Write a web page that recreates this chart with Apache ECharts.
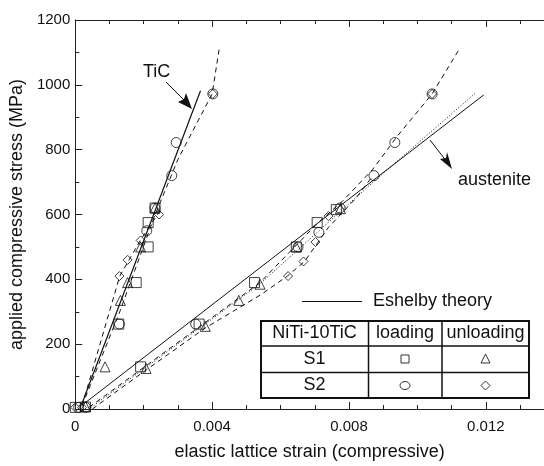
<!DOCTYPE html>
<html><head><meta charset="utf-8">
<script src="https://cdn.jsdelivr.net/npm/echarts@6/dist/echarts.min.js"></script>
<style>html,body{margin:0;padding:0;background:#fff}#c{width:544px;height:466px}</style>
</head><body><div id="c"></div>
<script>
// ---- data (strain, stress MPa) ----
const xTicks = [0, 0.004, 0.008, 0.012];
const yTicks = [0, 200, 400, 600, 800, 1000, 1200];

const ticS1Load   = [[0,5],[0.0003,6],[0.00127,262],[0.00178,390],[0.00213,500],[0.00213,575],[0.00233,620]];
const ticS1Unload = [[0.0003,8],[0.00087,130],[0.00132,335],[0.00153,390],[0.00191,500],[0.00233,620]];
const ticS2Load   = [[0.0001,5],[0.0003,5],[0.00129,262],[0.00209,550],[0.00233,620],[0.00282,720],[0.00295,822],[0.00402,972]];
const ticS2Unload = [[0,5],[0.0002,5],[0.00129,410],[0.00153,460],[0.00191,520],[0.00245,600],[0.00402,972]];

const ausS1Load   = [[0.00191,130],[0.00362,262],[0.00524,390],[0.00646,500],[0.00707,575],[0.00763,615]];
const ausS1Unload = [[0.00207,125],[0.0038,255],[0.00478,335],[0.0054,385],[0.00646,500],[0.00775,618]];
const ausS2Load   = [[0.00352,262],[0.00651,500],[0.00712,545],[0.00774,620],[0.00873,720],[0.00934,822],[0.01043,972]];
const ausS2Unload = [[0.00622,410],[0.00667,455],[0.00702,515],[0.0074,595],[0.01043,972]];

const ticEshelby = [[0.0002,18],[0.00366,982]];
const ticFitA    = [[0.0002,10],[0.0013,410],[0.0019,520],[0.0025,615]];
const ticFitB    = [[0.0002,10],[0.0013,300],[0.0023,590],[0.0030,770],[0.0040,972],[0.00421,1113]];

const ausEshelby = [[0.0003,20],[0.01194,969]];
const ausDotted  = [[0.0004,0],[0.0054,386],[0.0086,690],[0.0117,975]];
const ausFitA    = [[0.0004,5],[0.0054,390],[0.0071,575],[0.0078,640],[0.0087,740],[0.0094,840],[0.01043,972],[0.01124,1113]];
const ausFitB    = [[0.0005,0],[0.002,115],[0.0038,250],[0.0054,351],[0.0062,410],[0.0067,455],[0.0074,560],[0.0082,650],[0.0087,720]];

const FONT = 'Liberation Sans, Arial, Helvetica, sans-serif';
const chart = echarts.init(document.getElementById('c'), null, {renderer:'canvas'});

function lineS(data, type, w){
  return {type:'line', data, showSymbol:false, symbol:'none', silent:true, z:2,
    lineStyle:{color:'#111', width:w||1, type}, animation:false};
}
function scat(data, symbol, size){
  return {type:'scatter', data, symbol, symbolSize:size, z:3, animation:false,
    itemStyle:{color:'rgba(255,255,255,0)', borderColor:'#111', borderWidth:1}};
}
const diamondPath = 'path://M0,-1L1,0L0,1L-1,0Z';
const triPath = 'path://M0,-1L0.95,0.75L-0.95,0.75Z';

chart.setOption({
  animation:false,
  textStyle:{fontFamily:FONT},
  grid:{left:75, top:20, right:0, bottom:52, containLabel:false},
  xAxis:[{
    type:'value', min:0, max:0.0137, interval:0.004,
    position:'bottom',
    name:'elastic lattice strain (compressive)', nameLocation:'middle', nameGap:34,
    nameTextStyle:{fontSize:18, color:'#111', fontFamily:FONT},
    axisLine:{lineStyle:{color:'#222', width:1}},
    axisTick:{inside:true, length:7, lineStyle:{color:'#222'}},
    minorTick:{show:true, splitNumber:4, length:4, lineStyle:{color:'#222'}},
    splitLine:{show:false},
    axisLabel:{fontSize:15, color:'#111', margin:10, fontFamily:FONT,
      formatter:v => v===0 ? '0' : v.toFixed(3), showMaxLabel:false}
  },{
    type:'value', min:0, max:0.0137, interval:0.004, position:'top',
    axisLine:{show:true, lineStyle:{color:'#222', width:1}},
    axisTick:{inside:true, length:7, lineStyle:{color:'#222'}},
    minorTick:{show:true, splitNumber:4, length:4, lineStyle:{color:'#222'}},
    axisLabel:{show:false}, splitLine:{show:false}
  }],
  yAxis:{
    type:'value', min:0, max:1200, interval:200,
    name:'applied compressive stress (MPa)', nameLocation:'middle', nameGap:41,
    nameTextStyle:{fontSize:18, color:'#111', fontFamily:FONT},
    axisLine:{show:true, lineStyle:{color:'#222', width:1}},
    axisTick:{inside:true, length:7, lineStyle:{color:'#222'}},
    minorTick:{show:true, splitNumber:2, length:4, lineStyle:{color:'#222'}},
    splitLine:{show:false},
    axisLabel:{fontSize:15, color:'#111', margin:5, fontFamily:FONT, formatter:v => String(v)}
  },
  series:[
    lineS(ticEshelby,'solid',1.2),
    lineS(ticFitA,[5,4]),
    lineS(ticFitB,[5,4]),
    lineS(ausEshelby,'solid',1),
    lineS(ausDotted,[1,2]),
    lineS(ausFitA,[5,4]),
    lineS(ausFitB,[5,4]),
    scat(ticS1Load,'rect',10), scat(ausS1Load,'rect',10),
    scat(ticS1Unload,triPath,10), scat(ausS1Unload,triPath,10),
    scat(ticS2Load,'circle',10), scat(ausS2Load,'circle',10),
    scat(ticS2Unload,diamondPath,9), scat(ausS2Unload,diamondPath,9)
  ],
  graphic:[
    {type:'text', left:143, top:63, style:{text:'TiC', font:'18px '+FONT, fill:'#111'}},
    {type:'line', shape:{x1:166,y1:82,x2:186,y2:102}, style:{stroke:'#111', lineWidth:1}},
    {type:'polygon', shape:{points:[[192,109],[178,102],[184,99],[186,93]]}, style:{fill:'#111'}},
    {type:'text', left:458, top:171, style:{text:'austenite', font:'18px '+FONT, fill:'#111'}},
    {type:'line', shape:{x1:430,y1:140,x2:447,y2:162}, style:{stroke:'#111', lineWidth:1}},
    {type:'polygon', shape:{points:[[452,169],[440,159],[446,158],[447,152]]}, style:{fill:'#111'}},
    {type:'line', shape:{x1:302,y1:301.5,x2:362,y2:301.5}, style:{stroke:'#111', lineWidth:1}},
    {type:'text', left:373, top:292, style:{text:'Eshelby theory', font:'18px '+FONT, fill:'#111'}},
    {type:'rect', shape:{x:261,y:321,width:268,height:77}, style:{fill:'#fff', stroke:'#111', lineWidth:2}, z:10},
    {type:'line', shape:{x1:261,y1:346,x2:529,y2:346}, style:{stroke:'#111', lineWidth:1.5}, z:11},
    {type:'line', shape:{x1:261,y1:372.5,x2:529,y2:372.5}, style:{stroke:'#111', lineWidth:1.5}, z:11},
    {type:'line', shape:{x1:368.5,y1:321,x2:368.5,y2:398}, style:{stroke:'#111', lineWidth:1.5}, z:11},
    {type:'line', shape:{x1:442,y1:321,x2:442,y2:398}, style:{stroke:'#111', lineWidth:1.5}, z:11},
    {type:'text', x:314.5, y:333.5, style:{text:'NiTi-10TiC', font:'18px '+FONT, fill:'#111', textAlign:'center', textVerticalAlign:'middle'}, z:12},
    {type:'text', x:405, y:333.5, style:{text:'loading', font:'18px '+FONT, fill:'#111', textAlign:'center', textVerticalAlign:'middle'}, z:12},
    {type:'text', x:485.5, y:333.5, style:{text:'unloading', font:'18px '+FONT, fill:'#111', textAlign:'center', textVerticalAlign:'middle'}, z:12},
    {type:'text', x:314.5, y:359.5, style:{text:'S1', font:'18px '+FONT, fill:'#111', textAlign:'center', textVerticalAlign:'middle'}, z:12},
    {type:'text', x:314.5, y:385.5, style:{text:'S2', font:'18px '+FONT, fill:'#111', textAlign:'center', textVerticalAlign:'middle'}, z:12},
    {type:'rect', shape:{x:401,y:355,width:8,height:8}, style:{fill:'none', stroke:'#333', lineWidth:1}, z:12},
    {type:'polygon', shape:{points:[[485.5,354],[490,363],[481,363]]}, style:{fill:'none', stroke:'#333', lineWidth:1}, z:12},
    {type:'ellipse', shape:{cx:405,cy:385.5,rx:5,ry:4}, style:{fill:'none', stroke:'#333', lineWidth:1}, z:12},
    {type:'polygon', shape:{points:[[485.5,381],[490,385.5],[485.5,390],[481,385.5]]}, style:{fill:'none', stroke:'#333', lineWidth:1}, z:12}
  ]
});
</script></body></html>
